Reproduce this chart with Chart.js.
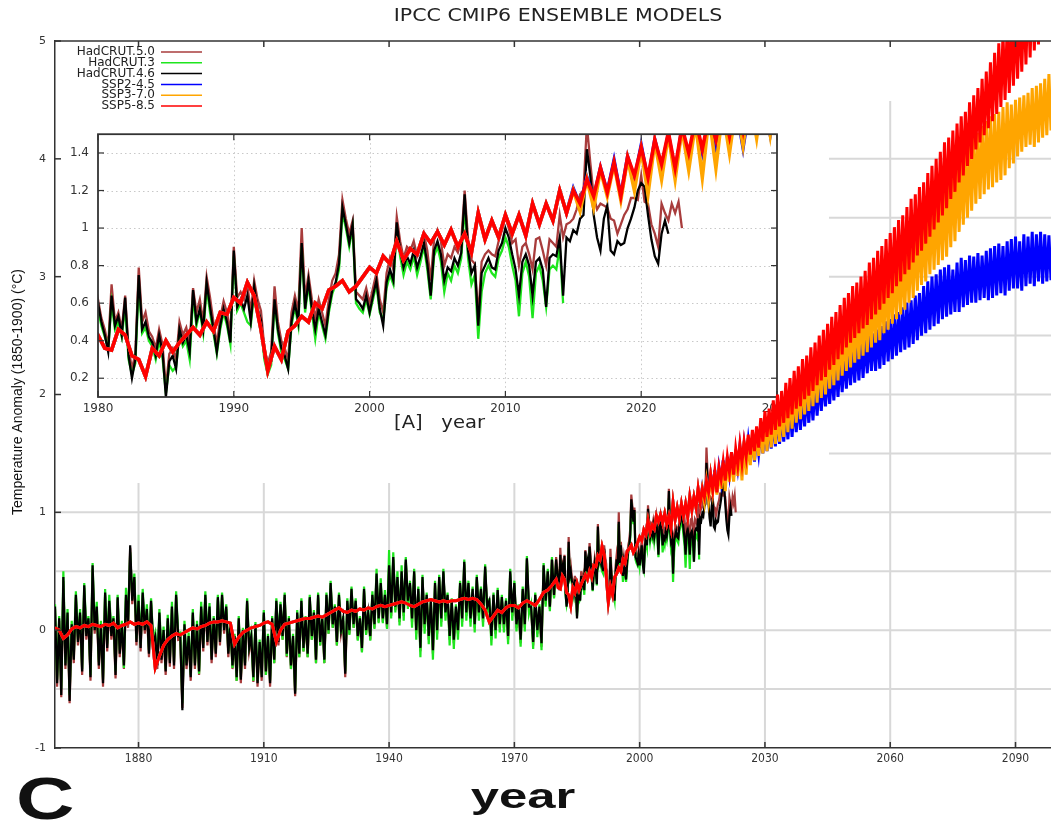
<!DOCTYPE html>
<html>
<head>
<meta charset="utf-8">
<script src="https://cdn.jsdelivr.net/npm/chart.js@4.4.0/dist/chart.umd.min.js"></script>
<style>
html, body { margin:0; padding:0; background:#fff; }
#wrap { position:relative; width:1051px; height:821px; overflow:hidden; }
#inset { position:absolute; left:50px; top:118px; z-index:1; }
#main { position:absolute; left:0; top:0; z-index:2; }
</style>
</head>
<body>
<div id="wrap">
  <canvas id="inset" width="760" height="330" style="width:760px;height:330px"></canvas>
  <canvas id="main" width="1051" height="821" style="width:1051px;height:821px"></canvas>
</div>
<script>
// ---- data (temperature anomaly vs 1850-1900, degC) ----
const seriesNames = ["HadCRUT.5.0", "HadCRUT.3", "HadCRUT.4.6", "SSP2-4.5", "SSP3-7.0", "SSP5-8.5"];

// HadCRUT.4.6 : half-yearly 1860-1979.5, then quarterly 1980-2022
const hadcrut46Early = [
  0.20,-0.45, 0.10,-0.55, 0.45,-0.30, 0.15,-0.60, 0.05,-0.25, 0.30,-0.10, 0.15,-0.35, 0.38,-0.05, 0.10,-0.40, 0.55,0.00,
  0.20,-0.30, 0.05,-0.45, 0.32,-0.15, 0.25,-0.05, 0.10,-0.38, 0.28,-0.20, 0.05,-0.30, 0.30,0.05, 0.72,0.25, 0.45,-0.10,
  0.25,-0.15, 0.32,0.00, 0.18,-0.20, 0.25,-0.10, -0.05,-0.30, 0.15,-0.25, 0.00,-0.35, 0.10,-0.28, 0.20,-0.30, 0.30,-0.05,
  -0.05,-0.68, 0.05,-0.30, -0.05,-0.40, 0.15,-0.30, 0.05,-0.35, 0.20,-0.15, 0.30,-0.10, 0.20,-0.25, 0.10,-0.20, 0.28,-0.10,
  0.30,0.00, 0.20,-0.20, 0.05,-0.30, -0.05,-0.40, 0.10,-0.42, 0.00,-0.30, 0.25,-0.15, -0.05,-0.40, 0.05,-0.45, -0.10,-0.40,
  0.15,-0.35, -0.05,-0.45, 0.10,-0.25, 0.25,-0.10, 0.22,-0.05, 0.30,-0.20, 0.10,-0.30, -0.05,-0.54, 0.15,-0.20, 0.25,-0.15,
  0.10,-0.20, 0.28,-0.05, 0.15,-0.25, 0.30,-0.10, 0.10,-0.25, 0.30,0.00, 0.40,0.05, 0.20,-0.10, 0.30,0.00, 0.10,-0.37,
  0.25,0.00, 0.35,0.05, 0.25,-0.05, 0.10,-0.15, 0.35,0.00, 0.15,-0.05, 0.30,0.05, 0.48,0.10, 0.40,0.10, 0.30,0.05,
  0.55,0.15, 0.62,0.20, 0.45,0.10, 0.50,0.15, 0.60,0.25, 0.40,0.10, 0.50,0.00, 0.35,-0.15, 0.45,0.05, 0.30,-0.05,
  0.25,-0.17, 0.40,0.00, 0.45,0.10, 0.50,0.15, 0.30,-0.05, 0.25,-0.08, 0.20,0.00, 0.40,0.10, 0.58,0.15, 0.40,0.10,
  0.35,0.05, 0.45,0.15, 0.35,0.10, 0.54,0.20, 0.25,-0.05, 0.30,0.00, 0.34,0.05, 0.28,0.05, 0.25,-0.05, 0.50,0.15,
  0.40,0.05, 0.20,-0.08, 0.35,0.05, 0.61,0.20, 0.20,-0.10, 0.30,0.00, 0.20,-0.11, 0.55,0.25, 0.50,0.20, 0.60,0.30
];
const hadcrut46Late = [
  0.60,0.50,0.43,0.34, 0.64,0.48,0.53,0.43, 0.63,0.32,0.20,0.30, 0.75,0.46,0.50,0.42, 0.39,0.32,0.43,0.34,
  0.10,0.29,0.32,0.25, 0.46,0.39,0.43,0.34, 0.67,0.50,0.57,0.46, 0.71,0.58,0.46,0.34, 0.48,0.57,0.50,0.39,
  0.88,0.58,0.62,0.57, 0.64,0.50,0.69,0.57, 0.51,0.32,0.25,0.29, 0.62,0.46,0.36,0.32, 0.25,0.50,0.60,0.50,
  0.92,0.57,0.72,0.57, 0.46,0.57,0.50,0.43, 0.57,0.67,0.71,0.81, 1.11,1.02,0.92,1.02, 0.62,0.60,0.57,0.64,
  0.55,0.64,0.72,0.57, 0.48,0.71,0.78,0.72, 1.03,0.88,0.79,0.85, 0.81,0.88,0.79,0.85, 0.92,0.81,0.64,0.88,
  0.93,0.86,0.72,0.79, 0.77,0.84,0.80,0.87, 1.18,0.88,0.76,0.80, 0.48,0.76,0.80,0.84, 0.79,0.78,0.88,0.92,
  1.00,0.95,0.86,0.78, 0.64,0.82,0.86,0.80, 0.64,0.82,0.84,0.78, 0.58,0.84,0.86,0.85, 0.95,0.64,0.95,0.93,
  0.99,0.97,1.05,1.07, 1.42,1.28,1.07,0.95, 0.88,1.05,1.12,0.88, 0.86,0.93,0.91,0.92, 1.00,1.05,1.11,1.20,
  1.24,1.22,1.07,0.94, 0.85,0.81,0.97,1.04, 0.97
];

// HadCRUT.3 : half-yearly 1860-1979.5, then quarterly 1980-2014.25
const hadcrut3Early = [
  0.22,-0.42, 0.12,-0.50, 0.50,-0.28, 0.18,-0.55, 0.08,-0.22, 0.33,-0.08, 0.18,-0.33, 0.40,-0.02, 0.12,-0.38, 0.57,0.02,
  0.24,-0.27, 0.08,-0.42, 0.35,-0.12, 0.30,-0.03, 0.12,-0.35, 0.30,-0.17, 0.08,-0.32, 0.36,0.08, 0.66,0.28, 0.48,-0.07,
  0.30,-0.12, 0.35,0.02, 0.22,-0.17, 0.27,-0.08, -0.02,-0.28, 0.18,-0.22, 0.03,-0.33, 0.13,-0.25, 0.24,-0.27, 0.33,-0.03,
  -0.02,-0.62, 0.08,-0.28, -0.02,-0.38, 0.18,-0.28, 0.08,-0.37, 0.24,-0.12, 0.33,-0.08, 0.23,-0.22, 0.12,-0.18, 0.30,-0.08,
  0.32,0.02, 0.22,-0.18, 0.07,-0.32, -0.03,-0.43, 0.12,-0.40, 0.02,-0.28, 0.27,-0.13, -0.03,-0.43, 0.07,-0.43, -0.08,-0.38,
  0.17,-0.38, -0.03,-0.43, 0.12,-0.28, 0.27,-0.08, 0.24,-0.08, 0.32,-0.22, 0.12,-0.33, -0.03,-0.52, 0.17,-0.23, 0.27,-0.18,
  0.12,-0.23, 0.30,-0.08, 0.17,-0.28, 0.32,-0.13, 0.12,-0.28, 0.32,-0.03, 0.42,0.02, 0.22,-0.13, 0.32,-0.03, 0.12,-0.35,
  0.27,-0.04, 0.37,0.02, 0.27,-0.09, 0.12,-0.19, 0.37,-0.04, 0.17,-0.09, 0.33,0.01, 0.52,0.06, 0.44,0.06, 0.34,0.01,
  0.68,0.10, 0.66,0.15, 0.50,0.04, 0.55,0.08, 0.62,0.18, 0.42,0.02, 0.52,-0.08, 0.37,-0.23, 0.47,-0.03, 0.32,-0.12,
  0.27,-0.25, 0.42,-0.08, 0.47,0.03, 0.52,0.08, 0.32,-0.13, 0.27,-0.16, 0.22,-0.08, 0.42,0.03, 0.60,0.08, 0.42,0.03,
  0.37,-0.02, 0.47,0.08, 0.37,0.03, 0.56,0.13, 0.27,-0.13, 0.32,-0.07, 0.36,-0.02, 0.30,-0.02, 0.27,-0.12, 0.52,0.08,
  0.42,-0.01, 0.22,-0.14, 0.37,-0.01, 0.63,0.14, 0.22,-0.16, 0.32,-0.06, 0.22,-0.17, 0.57,0.20, 0.52,0.16, 0.62,0.27
];
const hadcrut3Late = [
  0.56,0.48,0.42,0.36, 0.60,0.46,0.50,0.42, 0.58,0.30,0.22,0.28, 0.70,0.44,0.47,0.40, 0.37,0.30,0.40,0.31,
  0.12,0.27,0.24,0.26, 0.44,0.37,0.40,0.30, 0.63,0.48,0.56,0.44, 0.68,0.55,0.44,0.33, 0.46,0.55,0.48,0.38,
  0.85,0.56,0.60,0.55, 0.50,0.48,0.66,0.55, 0.48,0.30,0.22,0.27, 0.60,0.44,0.34,0.30, 0.25,0.48,0.58,0.48,
  0.90,0.55,0.70,0.55, 0.41,0.55,0.48,0.41, 0.55,0.65,0.70,0.78, 1.08,1.00,0.90,1.00, 0.60,0.57,0.55,0.62,
  0.54,0.62,0.70,0.55, 0.51,0.68,0.75,0.70, 1.00,0.85,0.75,0.82, 0.78,0.85,0.75,0.82, 0.90,0.78,0.62,0.85,
  0.90,0.82,0.66,0.76, 0.72,0.80,0.76,0.84, 1.12,0.84,0.70,0.75, 0.41,0.66,0.76,0.80, 0.76,0.74,0.84,0.88,
  0.95,0.90,0.80,0.72, 0.53,0.76,0.82,0.74, 0.52,0.76,0.80,0.72, 0.58,0.78,0.80,0.78, 0.90,0.60
];

// HadCRUT.5.0 : half-yearly 1860-1979.5, then quarterly 1980-2023
const hadcrut5Early = [
  0.18,-0.48, 0.08,-0.57, 0.42,-0.33, 0.13,-0.62, 0.03,-0.28, 0.28,-0.13, 0.13,-0.38, 0.36,-0.08, 0.08,-0.43, 0.52,-0.03,
  0.18,-0.33, 0.03,-0.48, 0.30,-0.18, 0.23,-0.08, 0.08,-0.41, 0.26,-0.23, 0.03,-0.33, 0.28,0.02, 0.70,0.22, 0.43,-0.13,
  0.23,-0.18, 0.30,-0.03, 0.16,-0.23, 0.23,-0.13, -0.07,-0.33, 0.13,-0.28, -0.02,-0.38, 0.08,-0.31, 0.18,-0.33, 0.28,-0.08,
  -0.07,-0.66, 0.03,-0.33, -0.07,-0.43, 0.13,-0.33, 0.03,-0.38, 0.18,-0.18, 0.28,-0.13, 0.18,-0.28, 0.08,-0.23, 0.26,-0.13,
  0.28,-0.03, 0.18,-0.23, 0.03,-0.33, -0.07,-0.43, 0.08,-0.45, -0.02,-0.33, 0.23,-0.18, -0.07,-0.44, 0.03,-0.48, -0.12,-0.43,
  0.13,-0.38, -0.07,-0.48, 0.08,-0.28, 0.23,-0.13, 0.20,-0.08, 0.28,-0.23, 0.08,-0.33, -0.07,-0.56, 0.13,-0.23, 0.23,-0.18,
  0.08,-0.23, 0.26,-0.08, 0.13,-0.28, 0.28,-0.13, 0.08,-0.28, 0.28,-0.03, 0.38,0.02, 0.18,-0.13, 0.28,-0.03, 0.08,-0.40,
  0.23,-0.03, 0.33,0.02, 0.23,-0.08, 0.08,-0.18, 0.33,-0.03, 0.13,-0.08, 0.28,0.02, 0.46,0.07, 0.38,0.07, 0.28,0.02,
  0.53,0.12, 0.60,0.17, 0.43,0.07, 0.48,0.12, 0.58,0.22, 0.38,0.07, 0.48,-0.03, 0.33,-0.18, 0.43,0.02, 0.28,-0.08,
  0.23,-0.20, 0.38,-0.03, 0.43,0.07, 0.48,0.12, 0.28,-0.08, 0.23,-0.11, 0.18,-0.03, 0.38,0.07, 0.56,0.12, 0.38,0.07,
  0.33,0.02, 0.43,0.12, 0.33,0.07, 0.52,0.17, 0.23,-0.08, 0.28,-0.03, 0.32,0.02, 0.26,0.02, 0.23,-0.08, 0.48,0.12,
  0.38,0.02, 0.18,-0.11, 0.33,0.02, 0.60,0.17, 0.18,-0.13, 0.28,-0.03, 0.18,-0.14, 0.53,0.22, 0.50,0.18, 0.60,0.28
];
const hadcrut5Late = [
  0.62,0.52,0.46,0.37, 0.70,0.50,0.55,0.46, 0.64,0.36,0.25,0.33, 0.79,0.50,0.55,0.45, 0.42,0.36,0.46,0.38,
  0.15,0.33,0.36,0.30, 0.50,0.43,0.47,0.38, 0.68,0.55,0.62,0.50, 0.74,0.63,0.50,0.38, 0.52,0.61,0.55,0.44,
  0.90,0.63,0.66,0.62, 0.70,0.55,0.72,0.62, 0.56,0.36,0.28,0.34, 0.69,0.50,0.40,0.36, 0.30,0.55,0.64,0.56,
  1.00,0.63,0.75,0.62, 0.52,0.62,0.55,0.48, 0.62,0.72,0.76,0.86, 1.15,1.05,0.97,1.04, 0.66,0.64,0.62,0.68,
  0.60,0.68,0.76,0.62, 0.55,0.76,0.84,0.78, 1.06,0.93,0.84,0.90, 0.88,0.93,0.85,0.90, 0.97,0.88,0.72,0.94,
  0.99,0.93,0.80,0.86, 0.84,0.90,0.87,0.93, 1.20,0.94,0.83,0.81, 0.53,0.82,0.86,0.88, 0.86,0.85,0.93,0.99,
  1.06,1.00,0.92,0.94, 0.80,0.90,0.92,0.86, 0.78,0.94,0.95,0.88, 0.80,0.94,0.92,0.90, 1.07,0.95,1.02,1.03,
  1.05,1.10,1.18,1.20, 1.55,1.35,1.17,1.10, 1.13,1.12,1.11,1.05, 1.04,0.97,1.02,1.07, 1.10,1.16,1.16,1.15,
  1.28,1.14,1.13,1.02, 0.97,0.90,1.13,1.08, 1.04,1.13,1.08,1.14, 1.00
];

// CMIP6 ensemble, common historical run: yearly 1860-1979, half-yearly 1980-2014.5
const sspHistEarly = [
  0.02,0.00,-0.07,-0.04,0.01,0.03,0.02,0.04,0.03,0.05,
  0.04,0.03,0.05,0.04,0.06,0.02,0.04,0.05,0.07,0.05,
  0.06,0.05,0.07,0.04,-0.32,-0.22,-0.13,-0.08,-0.05,-0.03,
  -0.04,-0.02,0.00,0.02,0.01,0.03,0.04,0.06,0.07,0.07,
  0.08,0.07,0.06,-0.12,-0.06,-0.02,0.00,0.02,0.03,0.04,
  0.06,0.07,0.05,-0.10,0.00,0.05,0.06,0.07,0.08,0.09,
  0.10,0.10,0.11,0.12,0.11,0.13,0.15,0.17,0.19,0.16,
  0.15,0.17,0.16,0.18,0.17,0.19,0.18,0.20,0.21,0.20,
  0.21,0.22,0.23,0.24,0.23,0.21,0.20,0.22,0.24,0.25,
  0.26,0.25,0.24,0.25,0.24,0.25,0.25,0.26,0.27,0.26,
  0.27,0.26,0.22,0.17,0.07,0.12,0.17,0.15,0.19,0.21,
  0.21,0.19,0.23,0.25,0.23,0.21,0.26,0.32,0.34,0.38
];
const sspHistLate = [
  0.43,0.36, 0.35,0.46, 0.43,0.32, 0.30,0.21, 0.36,0.32, 0.40,0.34, 0.39,0.43, 0.47,0.43, 0.50,0.45, 0.55,0.54,
  0.63,0.60, 0.71,0.64, 0.46,0.24, 0.37,0.30, 0.45,0.48, 0.53,0.50, 0.60,0.57, 0.67,0.69, 0.72,0.66, 0.69,0.74,
  0.79,0.76, 0.85,0.81, 0.93,0.83, 0.89,0.86, 0.97,0.92, 0.98,0.91, 0.99,0.90, 0.97,0.87, 1.08,0.94, 1.04,0.95,
  1.07,0.97, 1.07,0.96, 1.13,1.02, 1.13,1.04, 1.20,1.08
];

// scenario runs, half-yearly 2015.0-2100.0
const ssp245 = [
  1.21,1.12, 1.27,1.16, 1.32,1.19, 1.36,1.17, 1.38,1.26, 1.44,1.25, 1.47,1.32, 1.50,1.30, 1.53,1.38, 1.56,1.40,
  1.58,1.43, 1.61,1.44, 1.64,1.43, 1.66,1.50, 1.69,1.50, 1.72,1.52, 1.74,1.54, 1.78,1.56, 1.80,1.58, 1.84,1.60,
  1.86,1.62, 1.90,1.64, 1.92,1.68, 1.96,1.70, 1.98,1.73, 2.02,1.76, 2.05,1.78, 2.08,1.82, 2.12,1.86, 2.15,1.90,
  2.18,1.92, 2.22,1.95, 2.26,1.98, 2.30,2.02, 2.34,2.05, 2.36,2.08, 2.40,2.10, 2.44,2.12, 2.46,2.14, 2.48,2.18,
  2.50,2.20, 2.52,2.20, 2.55,2.22, 2.58,2.25, 2.62,2.28, 2.64,2.30, 2.68,2.33, 2.70,2.36, 2.74,2.38, 2.78,2.40,
  2.80,2.43, 2.84,2.46, 2.86,2.50, 2.92,2.52, 2.96,2.55, 3.00,2.58, 3.02,2.60, 3.06,2.64, 3.08,2.66, 3.10,2.68,
  3.06,2.70, 3.12,2.70, 3.16,2.74, 3.14,2.76, 3.18,2.78, 3.17,2.78, 3.20,2.80, 3.18,2.82, 3.22,2.80, 3.24,2.82,
  3.26,2.84, 3.28,2.86, 3.26,2.84, 3.30,2.88, 3.32,2.90, 3.34,2.90, 3.30,2.88, 3.36,2.92, 3.34,2.94, 3.38,2.92,
  3.36,2.96, 3.38,2.94, 3.36,2.96, 3.35,2.97, 3.34,2.96, 3.36
];
const ssp370 = [
  1.20,1.09, 1.26,1.11, 1.31,1.17, 1.34,1.15, 1.37,1.20, 1.42,1.18, 1.46,1.26, 1.50,1.26, 1.53,1.31, 1.56,1.27,
  1.60,1.32, 1.63,1.40, 1.66,1.44, 1.70,1.48, 1.74,1.50, 1.78,1.52, 1.82,1.55, 1.86,1.58, 1.88,1.60, 1.93,1.64,
  1.98,1.68, 2.02,1.71, 2.06,1.76, 2.10,1.79, 2.15,1.83, 2.18,1.86, 2.24,1.90, 2.28,1.93, 2.32,1.97, 2.36,2.00,
  2.42,2.05, 2.46,2.08, 2.50,2.12, 2.55,2.16, 2.58,2.20, 2.63,2.23, 2.66,2.27, 2.70,2.30, 2.75,2.33, 2.78,2.36,
  2.82,2.40, 2.86,2.44, 2.89,2.46, 2.94,2.52, 2.98,2.55, 3.04,2.60, 3.08,2.64, 3.14,2.68, 3.18,2.72, 3.25,2.78,
  3.32,2.82, 3.36,2.88, 3.41,2.93, 3.46,2.96, 3.53,3.02, 3.60,3.06, 3.65,3.10, 3.70,3.14, 3.74,3.17, 3.80,3.25,
  3.86,3.30, 3.92,3.38, 3.98,3.44, 4.06,3.50, 4.12,3.56, 4.18,3.62, 4.22,3.66, 4.28,3.70, 4.32,3.74, 4.36,3.76,
  4.38,3.80, 4.40,3.82, 4.44,3.86, 4.48,3.92, 4.46,3.96, 4.50,4.02, 4.52,4.06, 4.54,4.10, 4.56,4.12, 4.60,4.10,
  4.62,4.14, 4.64,4.18, 4.68,4.20, 4.72,4.24, 4.74,4.26, 4.78
];
const ssp585 = [
  1.20,1.13, 1.26,1.17, 1.32,1.19, 1.35,1.17, 1.38,1.28, 1.43,1.27, 1.47,1.34, 1.51,1.32, 1.54,1.40, 1.58,1.42,
  1.60,1.47, 1.66,1.49, 1.70,1.52, 1.73,1.55, 1.80,1.60, 1.86,1.64, 1.88,1.66, 1.95,1.70, 2.00,1.73, 2.03,1.76,
  2.10,1.80, 2.14,1.83, 2.20,1.88, 2.24,1.90, 2.30,1.96, 2.33,1.99, 2.40,2.03, 2.44,2.08, 2.50,2.12, 2.55,2.15,
  2.60,2.21, 2.66,2.25, 2.70,2.30, 2.76,2.34, 2.82,2.40, 2.86,2.44, 2.92,2.48, 2.95,2.52, 3.00,2.56, 3.05,2.59,
  3.12,2.64, 3.16,2.68, 3.22,2.72, 3.26,2.77, 3.32,2.82, 3.37,2.86, 3.42,2.92, 3.48,2.96, 3.52,3.02, 3.59,3.06,
  3.66,3.12, 3.70,3.18, 3.76,3.22, 3.80,3.28, 3.88,3.34, 3.94,3.40, 4.00,3.46, 4.06,3.52, 4.14,3.58, 4.18,3.66,
  4.24,3.72, 4.30,3.80, 4.36,3.86, 4.40,3.94, 4.48,4.00, 4.54,4.08, 4.60,4.14, 4.68,4.20, 4.74,4.26, 4.82,4.32,
  4.90,4.38, 4.98,4.44, 5.06,4.50, 5.12,4.56, 5.18,4.62, 5.24,4.68, 5.30,4.74, 5.36,4.80, 5.42,4.86, 5.48,4.92,
  5.54,4.97, 5.60,5.02, 5.66,5.08, 5.72,5.14, 5.78,5.20, 5.84
];

// axis ticks
const mainXTicks = [1880, 1910, 1940, 1970, 2000, 2030, 2060, 2090];
const mainYTicks = [-1, -0.5, 0, 0.5, 1, 1.5, 2, 2.5, 3, 3.5, 4, 4.5, 5];
const insetXTicks = [1980, 1990, 2000, 2010, 2020, 2030];
const insetYTicks = [0.2, 0.4, 0.6, 0.8, 1, 1.2, 1.4];

const colors = ["#a83c3c", "#1ee61e", "#000000", "#0000ff", "#ffa500", "#ff0000"];

// ---- helpers ----
function toPoints(blocks) {
  const pts = [];
  blocks.forEach(([start, step, vals]) => {
    vals.forEach((v, i) => pts.push({ x: start + i * step, y: v }));
  });
  return pts;
}

function makeDatasets(histW, sspW) {
  const hist = [
    [[1860, 0.5, hadcrut5Early], [1980, 0.25, hadcrut5Late]],
    [[1860, 0.5, hadcrut3Early], [1980, 0.25, hadcrut3Late]],
    [[1860, 0.5, hadcrut46Early], [1980, 0.25, hadcrut46Late]]
  ];
  const proj = [ssp245, ssp370, ssp585];
  const sets = [];
  hist.forEach((b, i) => sets.push({
    label: seriesNames[i], data: toPoints(b), borderColor: colors[i],
    borderWidth: histW, order: 5 - i
  }));
  proj.forEach((p, i) => sets.push({
    label: seriesNames[3 + i],
    data: toPoints([[1860, 1, sspHistEarly], [1980, 0.5, sspHistLate], [2015, 0.5, p]]),
    borderColor: colors[3 + i], borderWidth: sspW, order: 2 - i
  }));
  sets.forEach(s => { s.pointRadius = 0; s.tension = 0; s.clip = 0; s.fill = false; });
  return sets;
}

function strokeLine(ctx, x0, y0, x1, y1) {
  ctx.beginPath(); ctx.moveTo(x0, y0); ctx.lineTo(x1, y1); ctx.stroke();
}

// text stretched horizontally like the scanned figure
function wideText(ctx, text, x, y, font, sx, align) {
  ctx.save();
  ctx.font = font;
  ctx.textAlign = align;
  ctx.translate(x, y);
  ctx.scale(sx, 1);
  ctx.fillText(text, 0, 0);
  ctx.restore();
}

// ---- main chart decorations (gnuplot-like grid, ticks, legend, labels) ----
const mainDecor = {
  id: "mainDecor",
  beforeDatasetsDraw(chart) {
    const { ctx, chartArea: a, scales: { x, y } } = chart;
    ctx.save();
    ctx.strokeStyle = "#d8d8d8";
    ctx.lineWidth = 2;
    // the upper-left block (legend + inset) has no grid
    mainYTicks.forEach(v => {
      const py = y.getPixelForValue(v);
      if (py < 101 || py > a.bottom - 2) return;
      strokeLine(ctx, py < 483 ? 829 : a.left + 1, py, a.right, py);
    });
    mainXTicks.forEach(v => {
      const px = x.getPixelForValue(v);
      strokeLine(ctx, px, px < 829 ? 483 : 101, px, a.bottom - 1);
    });
    ctx.restore();
  },
  afterDatasetsDraw(chart) {
    const { ctx, chartArea: a, scales: { x, y } } = chart;
    ctx.save();
    ctx.strokeStyle = "#333";
    ctx.lineWidth = 1.5;
    strokeLine(ctx, a.left, a.top, a.right, a.top);
    mainXTicks.forEach(v => {
      const px = x.getPixelForValue(v);
      strokeLine(ctx, px, a.top, px, a.top + 6);
      strokeLine(ctx, px, a.bottom, px, a.bottom - 6);
    });
    mainYTicks.filter(v => Number.isInteger(v)).forEach(v => {
      const py = y.getPixelForValue(v);
      strokeLine(ctx, a.left, py, a.left + 6, py);
    });
    ctx.restore();
  },
  afterDraw(chart) {
    const { ctx } = chart;
    ctx.save();
    ctx.fillStyle = "#222";
    ctx.textBaseline = "middle";
    wideText(ctx, "IPCC CMIP6 ENSEMBLE MODELS", 558, 17, "17px 'DejaVu Sans'", 1.21, "center");

    // legend
    ctx.font = "12px 'DejaVu Sans'";
    ctx.textAlign = "right";
    seriesNames.forEach((name, i) => {
      const ly = 52 + i * 10.8;
      ctx.fillStyle = "#222";
      ctx.fillText(name, 155, ly);
      ctx.strokeStyle = colors[i];
      ctx.lineWidth = 1.5;
      strokeLine(ctx, 161, ly, 202, ly);
    });

    // y axis title
    ctx.save();
    ctx.translate(18, 392);
    ctx.rotate(-Math.PI / 2);
    ctx.textAlign = "center";
    ctx.fillStyle = "#111";
    ctx.font = "14px 'Liberation Sans'";
    ctx.fillText("Temperature Anomaly (1850-1900) (\u00B0C)", 0, 0);
    ctx.restore();

    // x axis title and panel letter
    ctx.fillStyle = "#111";
    ctx.textBaseline = "alphabetic";
    wideText(ctx, "year", 523, 808, "bold 35px 'Liberation Sans'", 1.45, "center");
    wideText(ctx, "C", 16, 819, "bold 60px 'Liberation Sans'", 1.35, "left");
    ctx.restore();
  }
};

// ---- inset decorations ----
const insetDecor = {
  id: "insetDecor",
  beforeDraw(chart) {
    const { ctx, chartArea: a } = chart;
    ctx.save();
    ctx.fillStyle = "#fff";
    ctx.fillRect(a.left, a.top, a.right - a.left, a.bottom - a.top);
    ctx.restore();
  },
  beforeDatasetsDraw(chart) {
    const { ctx, chartArea: a, scales: { x, y } } = chart;
    ctx.save();
    ctx.strokeStyle = "#c8c8c8";
    ctx.lineWidth = 1;
    ctx.setLineDash([1.5, 3]);
    insetXTicks.forEach(v => {
      const px = Math.round(x.getPixelForValue(v)) + 0.5;
      if (px > a.left + 2 && px < a.right - 2) strokeLine(ctx, px, a.top, px, a.bottom);
    });
    insetYTicks.forEach(v => {
      const py = Math.round(y.getPixelForValue(v)) + 0.5;
      strokeLine(ctx, a.left, py, a.right, py);
    });
    ctx.restore();
  },
  afterDatasetsDraw(chart) {
    const { ctx, chartArea: a, scales: { x, y } } = chart;
    ctx.save();
    ctx.strokeStyle = "#333";
    ctx.lineWidth = 1.8;
    ctx.strokeRect(a.left, a.top, a.right - a.left, a.bottom - a.top);
    ctx.lineWidth = 1.2;
    insetXTicks.forEach(v => {
      const px = x.getPixelForValue(v);
      strokeLine(ctx, px, a.bottom, px, a.bottom - 6);
      strokeLine(ctx, px, a.top, px, a.top + 6);
    });
    insetYTicks.forEach(v => {
      const py = y.getPixelForValue(v);
      strokeLine(ctx, a.left, py, a.left + 6, py);
      strokeLine(ctx, a.right, py, a.right - 6, py);
    });
    ctx.restore();
  },
  afterDraw(chart) {
    const { ctx, chartArea: a } = chart;
    ctx.save();
    ctx.fillStyle = "#222";
    ctx.textBaseline = "middle";
    wideText(ctx, "[A]   year", (a.left + a.right) / 2 + 2, a.bottom + 27, "17px 'DejaVu Sans'", 1.15, "center");
    ctx.restore();
  }
};

const tickFont = { family: "'DejaVu Sans'", size: 12 };

// ---- main chart ----
new Chart(document.getElementById("main"), {
  type: "line",
  data: { datasets: makeDatasets(2.2, 3.0) },
  options: {
    responsive: false,
    animation: false,
    devicePixelRatio: 1,
    events: [],
    layout: { padding: { top: 41, right: 0, bottom: 43, left: 0 } },
    plugins: { legend: { display: false }, tooltip: { enabled: false } },
    scales: {
      x: {
        type: "linear", min: 1860, max: 2098.5,
        afterBuildTicks: s => { s.ticks = mainXTicks.map(v => ({ value: v })); },
        afterFit: s => { s.height = 30; },
        grid: { display: false, drawTicks: false },
        border: { display: true, color: "#333", width: 1.5 },
        ticks: {
          autoSkip: false, maxRotation: 0, padding: 4, color: "#333",
          font: { family: "'DejaVu Sans Condensed', 'DejaVu Sans'", size: 12 },
          callback: v => String(v)
        }
      },
      y: {
        type: "linear", min: -1, max: 5,
        afterBuildTicks: s => { s.ticks = mainYTicks.map(v => ({ value: v })); },
        afterFit: s => { s.width = 55; },
        grid: { display: false, drawTicks: false },
        border: { display: true, color: "#333", width: 1.5 },
        ticks: {
          padding: 9, color: "#333",
          font: { family: "'DejaVu Sans'", size: 11 },
          callback: v => Number.isInteger(v) ? String(v) : ""
        }
      }
    }
  },
  plugins: [mainDecor]
});

// ---- inset [A]: 1980-2030 zoom ----
new Chart(document.getElementById("inset"), {
  type: "line",
  data: { datasets: makeDatasets(2.3, 3.6) },
  options: {
    responsive: false,
    animation: false,
    devicePixelRatio: 1,
    events: [],
    layout: { padding: { top: 10, right: 33, bottom: 0, left: 0 } },
    plugins: { legend: { display: false }, tooltip: { enabled: false } },
    scales: {
      x: {
        type: "linear", min: 1980, max: 2030,
        afterBuildTicks: s => { s.ticks = insetXTicks.map(v => ({ value: v })); },
        afterFit: s => { s.height = 51; },
        grid: { display: false, drawTicks: false },
        border: { display: false },
        ticks: { autoSkip: false, maxRotation: 0, padding: 5, color: "#333", font: tickFont, callback: v => String(v) }
      },
      y: {
        type: "linear", min: 0.1, max: 1.5,
        afterBuildTicks: s => { s.ticks = insetYTicks.map(v => ({ value: v })); },
        afterFit: s => { s.width = 48; },
        grid: { display: false, drawTicks: false },
        border: { display: false },
        ticks: { padding: 9, color: "#333", font: tickFont, callback: v => String(v) }
      }
    }
  },
  plugins: [insetDecor]
});
</script>
</body>
</html>
